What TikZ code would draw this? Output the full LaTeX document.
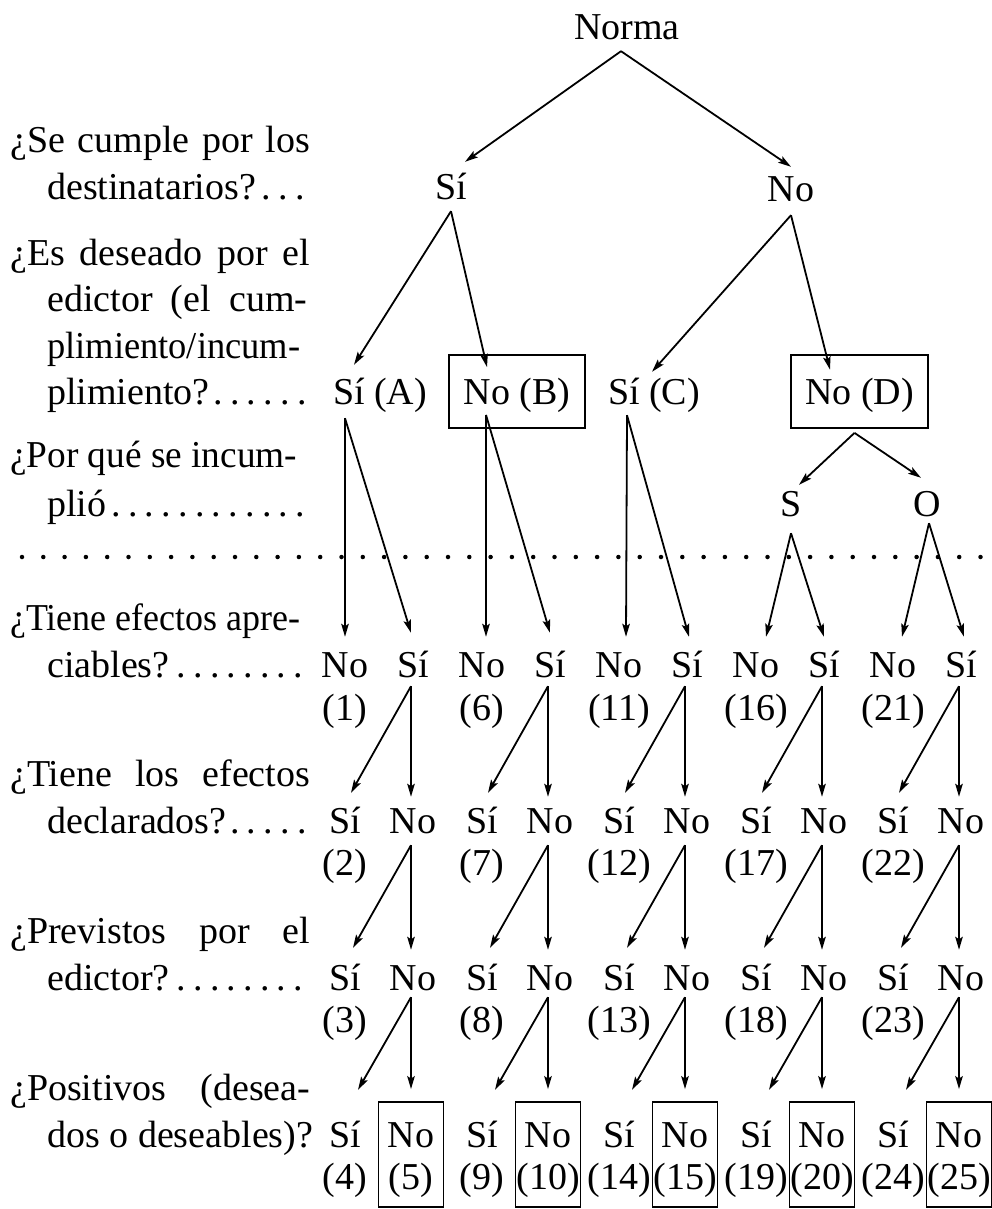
\documentclass[tikz,border=0pt]{standalone}
\usepackage{fontspec}
\usepackage{graphicx}
\setmainfont{Liberation Serif}
\usetikzlibrary{arrows.meta}
\newcommand\qline[2]{\setbox0=\hbox{#2}\ifdim\wd0>#1\relax\resizebox{#1}{\height}{#2}\else\makebox[#1][s]{#2}\fi}
\begin{document}
\begin{tikzpicture}[x=1pt,y=-1pt,
  lbl/.style={font=\fontsize{38}{42}\selectfont, inner sep=0pt, text height=28pt, text depth=9pt, anchor=base},
  qlbl/.style={font=\fontsize{38}{42}\selectfont, inner sep=0pt, anchor=base west},
  ansbox/.style={draw, line width=1.8pt, inner sep=0pt, font=\fontsize{38}{42}\selectfont, text height=49pt, text depth=24pt, anchor=base},
  leafbox/.style={draw, line width=1.8pt, minimum width=65pt, minimum height=105pt, inner sep=0pt},
  arr/.style={line width=1.8pt, -{Stealth[length=13pt,width=7.5pt,inset=2.5pt]}}]
\useasboundingbox (0,0) rectangle (992,1209);

% question labels
\node[qlbl] (q1a) at (10,153) {\qline{300pt}{¿Se cumple por los}};
\node[qlbl] (q1b) at (47,200) {\qline{263pt}{destinatarios?\dotfill}};
\node[qlbl] (q2a) at (10,265) {\qline{300pt}{¿Es deseado por el}};
\node[qlbl] (q2b) at (47,311) {\qline{260pt}{edictor (el cum-}};
\node[qlbl] (q2c) at (47,358) {\qline{253pt}{plimiento/incum-}};
\node[qlbl] (q2d) at (47,404) {\qline{263pt}{plimiento?\dotfill}};
\node[qlbl] (q3a) at (10,467) {\qline{287pt}{¿Por qué se incum-}};
\node[qlbl] (q3b) at (47,516) {\qline{263pt}{plió\dotfill}};
\node[qlbl] (q4a) at (10,630) {\qline{290pt}{¿Tiene efectos apre-}};
\node[qlbl] (q4b) at (47,677) {\qline{263pt}{ciables?\dotfill}};
\node[qlbl] (q5a) at (10,786) {\qline{300pt}{¿Tiene los efectos}};
\node[qlbl] (q5b) at (47,833) {\qline{263pt}{declarados?\dotfill}};
\node[qlbl] (q6a) at (10,943) {\qline{300pt}{¿Previstos por el}};
\node[qlbl] (q6b) at (47,990) {\qline{263pt}{edictor?\dotfill}};
\node[qlbl] (q7a) at (10,1100) {\qline{300pt}{¿Positivos (desea-}};
\node[qlbl] (q7b) at (47,1147) {\qline{266pt}{dos o deseables)?}};

% upper tree
\node[lbl] (norma) at (627,40) {Norma};
\node[lbl] (si1) at (451,200) {Sí};
\node[lbl] (no1) at (791,201) {No};
\node[lbl] (sA) at (380,404) {Sí (A)};
\node[ansbox, minimum width=136pt] (nB) at (517,404) {No (B)};
\node[lbl] (sC) at (654,404) {Sí (C)};
\node[ansbox, minimum width=137pt] (nD) at (859.5,404) {No (D)};
\node[lbl] (S) at (791,516) {S};
\node[lbl] (O) at (927,516) {O};

\draw[arr] ([xshift=-6pt,yshift=-2pt]norma.south) -- ([xshift=14pt,yshift=10pt]si1.north);
\draw[arr] ([xshift=-6pt,yshift=-2pt]norma.south) -- ([yshift=6pt]no1.north);
\draw[arr] ([yshift=-2pt]si1.south) -- ([xshift=-26pt,yshift=11pt]sA.north);
\draw[arr] ([yshift=-2pt]si1.south) -- ([xshift=-30pt,yshift=-13pt]nB.north);
\draw[arr] ([yshift=-5pt]no1.south) -- ([xshift=-2pt,yshift=4pt]sC.north);
\draw[arr] ([yshift=-5pt]no1.south) -- ([xshift=-29.5pt,yshift=-15.5pt]nD.north);
\draw[arr] ([xshift=-5pt,yshift=-4pt]nD.south) -- ([xshift=8pt,yshift=3pt]S.north);
\draw[arr] ([xshift=-5pt,yshift=-4pt]nD.south) -- ([xshift=-6pt,yshift=10pt]O.north);

% dotted separator
\coordinate (dotL) at (22,557);
\coordinate (dotR) at (990,557);
\draw[line width=4.5pt, line cap=round, dash pattern=on 0pt off 21.3pt] (dotL) -- (dotR);

% lower rows
\foreach \g in {0,...,4}{
  \pgfmathtruncatemacro\xl{345+137*\g}
  \pgfmathtruncatemacro\xr{413+137*\g}
  \pgfmathtruncatemacro\xb{411+137*\g}
  \pgfmathtruncatemacro\na{1+5*\g}
  \pgfmathtruncatemacro\nb{2+5*\g}
  \pgfmathtruncatemacro\nc{3+5*\g}
  \pgfmathtruncatemacro\nd{4+5*\g}
  \pgfmathtruncatemacro\ne{5+5*\g}
  \node[lbl] (r1n\g) at (\xl,677) {No};
  \node[lbl] (r1s\g) at (\xr,677) {Sí};
  \node[lbl] (k1\g) at (\xl,720) {(\na)};
  \node[lbl] (r2s\g) at (\xl,833) {Sí};
  \node[lbl] (r2n\g) at (\xr,833) {No};
  \node[lbl] (k2\g) at (\xl,875) {(\nb)};
  \node[lbl] (r3s\g) at (\xl,990) {Sí};
  \node[lbl] (r3n\g) at (\xr,990) {No};
  \node[lbl] (k3\g) at (\xl,1032) {(\nc)};
  \node[lbl] (r4s\g) at (\xl,1147) {Sí};
  \node[lbl] (k4\g) at (\xl,1189) {(\nd)};
  \node[leafbox] (bx\g) at (\xb,1154.5) {};
  \node[lbl] (r4n\g) at (\xb,1147) {No};
  \node[lbl] (k5\g) at (\xb,1189) {(\ne)};
  \draw[arr] ([xshift=-2pt]r1s\g.south) -- ([xshift=6pt,yshift=12pt]r2s\g.north);
  \draw[arr] ([xshift=-2pt]r1s\g.south) -- ([xshift=-2pt,yshift=8pt]r2n\g.north);
  \draw[arr] ([xshift=-2pt,yshift=-3pt]r2n\g.south) -- ([xshift=8pt,yshift=14pt]r3s\g.north);
  \draw[arr] ([xshift=-2pt,yshift=-3pt]r2n\g.south) -- ([xshift=-2pt,yshift=12pt]r3n\g.north);
  \draw[arr] ([xshift=-2pt,yshift=2pt]r3n\g.south) -- ([xshift=13pt,yshift=29pt]r4s\g.north);
  \draw[arr] ([xshift=-2pt,yshift=2pt]r3n\g.south) -- ([yshift=12pt]bx\g.north);
}

% second level to first lower row
\draw[arr] ([xshift=-35pt,yshift=-5pt]sA.south) -- ([yshift=12pt]r1n0.north);
\draw[arr] ([xshift=-35pt,yshift=-5pt]sA.south) -- ([xshift=-2pt,yshift=16pt]r1s0.north);
\draw[arr] ([xshift=-31pt,yshift=14pt]nB.south) -- ([xshift=4pt,yshift=12pt]r1n1.north);
\draw[arr] ([xshift=-31pt,yshift=14pt]nB.south) -- ([yshift=16pt]r1s1.north);
\draw[arr] ([xshift=-27pt,yshift=-2pt]sC.south) -- ([xshift=7pt,yshift=12pt]r1n2.north);
\draw[arr] ([xshift=-27pt,yshift=-2pt]sC.south) -- ([xshift=2pt,yshift=12pt]r1s2.north);
\draw[arr] ([yshift=-8pt]S.south) -- ([xshift=10pt,yshift=12pt]r1n3.north);
\draw[arr] ([yshift=-8pt]S.south) -- ([yshift=12pt]r1s3.north);
\draw[arr] ([xshift=2pt,yshift=2pt]O.south) -- ([xshift=9pt,yshift=12pt]r1n4.north);
\draw[arr] ([xshift=2pt,yshift=2pt]O.south) -- ([xshift=3pt,yshift=12pt]r1s4.north);
\end{tikzpicture}
\end{document}
